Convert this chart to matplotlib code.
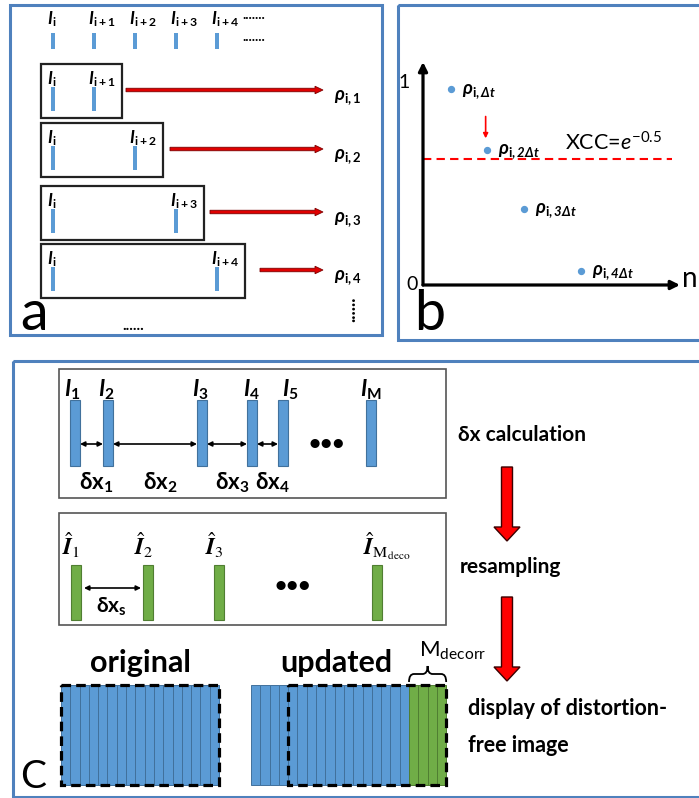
import numpy as np
import matplotlib
matplotlib.use("Agg")
import matplotlib.pyplot as plt
from matplotlib.patches import Rectangle, FancyArrow, PathPatch
from matplotlib.path import Path

plt.rcParams['font.family'] = ['Lato', 'DejaVu Sans']
plt.rcParams.update({
    'mathtext.fontset': 'custom',
    'mathtext.rm': 'Lato',
    'mathtext.it': 'Lato:italic',
    'mathtext.bf': 'Lato:bold',
    'mathtext.bfit': 'Lato:italic:bold',
    'mathtext.fallback': 'stixsans',
})

# ---------------- data ----------------
a_top_subs = ['i', 'i+1', 'i+2', 'i+3', 'i+4']
a_pair_lags = [1, 2, 3, 4]
a_rho_subs = ['i,1', 'i,2', 'i,3', 'i,4']

b_n = [0.78, 1.78, 2.80, 4.39]
b_rho = [0.94, 0.65, 0.365, 0.067]
b_labels = [r'\Delta t', r'2\Delta t', r'3\Delta t', r'4\Delta t']
b_xcc = np.exp(-0.5)

c_line_subs = ['1', '2', '3', '4', '5', 'M']
c_line_pos = [75, 108, 202, 252, 283, 371]
c_dx_subs = ['1', '2', '3', '4']
c_res_subs = [r'\mathrm{1}', r'\mathrm{2}', r'\mathrm{3}', r'\mathrm{M}_{\mathrm{deco}}']
c_res_pos = [76, 148, 219, 377]
c_n_cols = 17
c_m_decorr = 4

# ---------------- style ----------------
BLUE = '#5B9BD5'
BLUE_EDGE = '#41719C'
GREEN = '#70AD47'
GREEN_EDGE = '#507E32'
FRAME = '#4F81BD'

fig = plt.figure(figsize=(6.99, 7.98), dpi=100)
ax = fig.add_axes([0, 0, 1, 1])
ax.set_xlim(0, 699)
ax.set_ylim(798, 0)
ax.axis('off')

for (x, y, w, h) in [(10, 5, 372, 330), (398, 5, 320, 335), (13, 361, 700, 436)]:
    ax.add_patch(Rectangle((x, y), w, h, fill=False, ec=FRAME, lw=2.2))

# ---------------- panel a ----------------
a_x0, a_step = 53, 41


def a_line(x, ytop, sub, lab_base):
    ax.add_patch(Rectangle((x - 1.6, ytop), 3.2, 16 if ytop < 60 else 24, fc=BLUE, ec='none'))
    ax.text(x - 6, lab_base, r'$\mathbfit{I}_{\mathbf{%s}}$' % sub, fontsize=12.5,
            ha='left', va='baseline')


for k, s in enumerate(a_top_subs):
    a_line(a_x0 + a_step * k, 33, s, 24)
ax.text(242, 19, '.......', fontsize=10, fontweight='bold', va='baseline')
ax.text(242, 41, '.......', fontsize=10, fontweight='bold', va='baseline')

box_tops = [64, 123, 186, 244]
arrow_x0 = [126, 170, 210, 260]
for k, lag in enumerate(a_pair_lags):
    top = box_tops[k]
    xr = a_x0 + a_step * lag
    ax.add_patch(Rectangle((41, top), xr + 28 - 41, 54, fill=False, ec='#222222', lw=1.6))
    a_line(a_x0, top + 23, a_top_subs[0], top + 20)
    a_line(xr, top + 23, a_top_subs[lag], top + 20)
    ax.add_patch(FancyArrow(arrow_x0[k], top + 26, 323 - arrow_x0[k], 0, width=3.5,
                            head_width=7.5, head_length=8, length_includes_head=True,
                            fc='#e00000', ec='#7a0000', lw=0.6))
    ax.text(334, top + 36, r'$\mathbfit{\rho}_{\mathbf{%s}}$' % a_rho_subs[k], fontsize=13.5,
            ha='left', va='baseline')

ax.text(350, 309, '......', fontsize=13, fontweight='bold', rotation=90,
        ha='center', va='center')
ax.text(122, 330, '......', fontsize=11, fontweight='bold', va='baseline')
ax.text(20, 330, 'a', fontsize=40, va='baseline')

# ---------------- panel b ----------------
ux, uy = 36.0, 208.0  # px per unit
bx = fig.add_axes([423 / 699, 1 - 285 / 798, (690 - 423) / 699, (285 - 55) / 798])
bx.set_xlim(0, 267 / ux)
bx.set_ylim(0, 230 / uy)
bx.axis('off')
arr = dict(arrowstyle='-|>', color='black', lw=2.3, mutation_scale=13, shrinkA=0, shrinkB=0)
bx.annotate('', xy=(0, 223 / uy), xytext=(0, 0), arrowprops=arr)
bx.annotate('', xy=(257 / ux, 0), xytext=(0, 0), arrowprops=arr)
bx.axhline(b_xcc, xmin=0, xmax=(672 - 423) / 267, color='red', lw=1.5, ls=(0, (4, 2.5)))
bx.scatter(b_n, b_rho, s=18, color=BLUE, zorder=3)
for n, r, lab in zip(b_n, b_rho, b_labels):
    bx.annotate(r'$\mathbfit{\rho}_{\mathbf{i,}\mathbfit{%s}}$' % lab, xy=(n, r),
                xytext=(8, -3), textcoords='offset points', fontsize=13.5,
                ha='left', va='baseline', annotation_clip=False)
bx.annotate('', xy=(b_n[1] - 0.04, b_rho[1] + 0.055), xytext=(b_n[1] - 0.04, b_rho[1] + 0.16),
            arrowprops=dict(arrowstyle='-|>', color='red', lw=1.2, mutation_scale=7,
                            shrinkA=0, shrinkB=0))
bx.text((565 - 423) / ux, b_xcc + 0.04, r'XCC=$\mathit{e}^{\mathit{-0.5}}$', fontsize=15.5,
        ha='left', va='baseline')
ax.text(404, 82, '1', fontsize=14, ha='center', va='center')
ax.text(412, 284, '0', fontsize=14, ha='center', va='center')
ax.text(682, 287, 'n', fontsize=20, ha='left', va='baseline')
ax.text(414, 330, 'b', fontsize=40, va='baseline')

# ---------------- panel c ----------------
ax.add_patch(Rectangle((59, 369), 387, 129, fill=False, ec='#555555', lw=1.2))
ax.add_patch(Rectangle((59, 513), 387, 112, fill=False, ec='#555555', lw=1.2))

lab_dx = [-11, -10, -10, -9, -1, -11]
for x, s, d in zip(c_line_pos, c_line_subs, lab_dx):
    ax.add_patch(Rectangle((x - 5, 400), 10, 66, fc=BLUE, ec=BLUE_EDGE, lw=0.8))
    ax.text(x + d, 397, r'$\mathbfit{I}_{\mathbf{%s}}$' % s, fontsize=16, ha='left',
            va='baseline')

darr = dict(arrowstyle='<|-|>', color='black', lw=1.2, mutation_scale=7, shrinkA=0, shrinkB=0)
for k, s in enumerate(c_dx_subs):
    x0 = c_line_pos[k] + 5
    x1 = c_line_pos[k + 1] - 5
    ax.annotate('', xy=(x1, 444), xytext=(x0, 444), arrowprops=darr)
    ax.text((x0 + x1) / 2 + 5, 490, r'$\mathbf{\delta x}_{\mathbf{%s}}$' % s, fontsize=16,
            ha='center', va='baseline')
ax.text(327, 444, '•••', fontsize=15, fontweight='bold', ha='center', va='center')

for x, s in zip(c_res_pos, c_res_subs):
    ax.add_patch(Rectangle((x - 5, 565), 10, 55, fc=GREEN, ec=GREEN_EDGE, lw=0.8))
    ax.text(x - 14, 555, r'$\hat{\mathbfit{I}}_{%s}$' % s, fontsize=16.5, math_fontfamily='stix',
            ha='left', va='baseline')
ax.annotate('', xy=(c_res_pos[1] - 7, 588), xytext=(c_res_pos[0] + 8, 588), arrowprops=darr)
ax.text(111, 613, r'$\mathbf{\delta x}_{\mathbf{s}}$', fontsize=15, ha='center', va='baseline')
ax.text(293, 586, '•••', fontsize=15, fontweight='bold', ha='center', va='center')

# right-hand process texts and arrows
ax.text(458, 441, 'δx calculation', fontsize=15, fontweight='bold', ha='left', va='baseline')
ax.text(460, 573, 'resampling', fontsize=15, fontweight='bold', ha='left', va='baseline')
ax.text(468, 715, 'display of distortion-', fontsize=15.5, fontweight='bold', ha='left',
        va='baseline')
ax.text(468, 752, 'free image', fontsize=15.5, fontweight='bold', ha='left', va='baseline')
for y0, y1 in [(467, 541), (597, 681)]:
    ax.add_patch(FancyArrow(507, y0, 0, y1 - y0, width=11, head_width=26, head_length=14,
                            length_includes_head=True, fc='#ff0000', ec='#3a0000', lw=1.0))

# image blocks
col_w = 158 / c_n_cols
img_top, img_h = 685, 100
ox = 61
for i in range(c_n_cols):
    ax.add_patch(Rectangle((ox + i * col_w, img_top), col_w, img_h, fc=BLUE, ec=BLUE_EDGE, lw=0.7))
ax.add_patch(Rectangle((ox, img_top), c_n_cols * col_w, img_h, fill=False, ec='black', lw=2.3,
                       ls=(0, (3, 1.6))))
ax.text(ox + c_n_cols * col_w / 2, 672, 'original', fontsize=22, fontweight='bold',
        ha='center', va='baseline')

ux0 = 251
for i in range(c_n_cols + c_m_decorr):
    green = i >= c_n_cols
    ax.add_patch(Rectangle((ux0 + i * col_w, img_top), col_w, img_h,
                           fc=GREEN if green else BLUE, ec=GREEN_EDGE if green else BLUE_EDGE,
                           lw=0.7))
wx0 = ux0 + c_m_decorr * col_w
ax.add_patch(Rectangle((wx0, img_top), c_n_cols * col_w, img_h, fill=False, ec='black', lw=2.3,
                       ls=(0, (3, 1.6))))
ax.text(336, 672, 'updated', fontsize=22, fontweight='bold', ha='center', va='baseline')

gx0 = ux0 + c_n_cols * col_w
gx1 = gx0 + c_m_decorr * col_w
ym, yt, ye, r = 674, 666, 682, 5
xm = (gx0 + gx1) / 2
verts = [(gx0, ye), (gx0, ym), (gx0 + r, ym), (xm - r, ym), (xm, ym), (xm, yt),
         (xm, ym), (xm + r, ym), (gx1 - r, ym), (gx1, ym), (gx1, ye)]
codes = [Path.MOVETO, Path.CURVE3, Path.CURVE3, Path.LINETO, Path.CURVE3, Path.CURVE3,
         Path.CURVE3, Path.CURVE3, Path.LINETO, Path.CURVE3, Path.CURVE3]
ax.add_patch(PathPatch(Path(verts, codes), fill=False, ec='black', lw=1.3))
ax.text(gx0 + 10, 657, r'$\mathrm{M}_{\mathrm{decorr}}$', fontsize=16, ha='left', va='baseline')

ax.text(20, 788, 'C', fontsize=28, va='baseline')

fig.savefig('out.png', dpi=100)
